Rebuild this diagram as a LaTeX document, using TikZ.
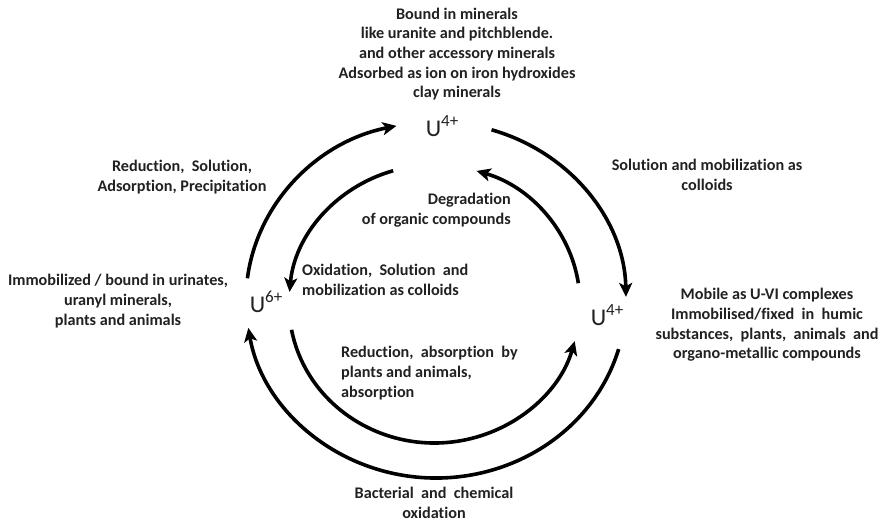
\documentclass[tikz,border=0pt]{standalone}
\usepackage{fontspec}
\setmainfont{Carlito}[Ligatures=NoCommon]
\usetikzlibrary{arrows.meta,calc}
\definecolor{ink}{rgb}{0.13,0.13,0.13}
% uranium ion with its charge set as a raised superscript
\newcommand{\uion}[1]{U\raisebox{0.40em}{\fontsize{17}{17}\selectfont #1}}

\begin{document}
\begin{tikzpicture}[x=1pt,y=-1pt,
  note/.style={font=\bfseries\fontsize{16.2}{19.7}\selectfont, text=ink, align=center, inner sep=0pt},
  ion/.style={font=\fontsize{24}{24}\selectfont, text=ink, inner sep=0pt},
  flow/.style={line width=3.6pt, draw=black,
    -{Stealth[length=14pt,width=13pt,inset=3.5pt]}}]
\useasboundingbox (0,0) rectangle (882,521);
\fill[white] (0,0) rectangle (882,521);

% centres of the outer and inner cycles
\coordinate (oc) at (436,300);
\coordinate (ic) at (434.5,304);

% oxidation states
\node[ion] (utop)   at (442,126) {\uion{4+}};
\node[ion] (usix)   at (266,302) {\uion{6+}};
\node[ion] (uright) at (607,315) {\uion{4+}};

% descriptions of each state
\node[note] (topnote) at (457,54) {Bound in minerals\\like uranite and pitchblende.\\and other accessory minerals\\Adsorbed as ion on iron hydroxides\\clay minerals};
\node[note] (leftnote) at (118,301) {Immobilized / bound in urinates,\\uranyl minerals,\\plants and animals};
\node[note] (rightnote) at (767,325) {Mobile as U-VI complexes\\Immobilised/fixed\ \ in\ \ humic\\substances,\ \ plants,\ \ animals\ \ and\\organo-metallic compounds};

% process labels
\node[note] (redsol) at (182,177) {Reduction,\ \ Solution,\\Adsorption, Precipitation};
\node[note] (solmob) at (707,175) {Solution and mobilization as\\colloids};
\node[note, align=right, anchor=east] (degrad) at (511,210) {Degradation\\of organic compounds};
\node[note, align=left, anchor=west] (oxsol) at (302,280) {Oxidation,\ \ Solution\ \ and\\mobilization as colloids};
\node[note, align=left, anchor=west] (redabs) at (341,373) {Reduction,\ \ absorption\ \ by\\plants and animals,\\absorption};
\node[note] (bact) at (434,503) {Bacterial\ \ and\ \ chemical\\oxidation};

% start points of the arcs
\coordinate (o1) at ($(oc)+(-173:190 and 178)$);
\coordinate (o2) at ($(oc)+(-73:190 and 178)$);
\coordinate (o3) at ($(oc)+(16:190 and 178)$);
\coordinate (i1) at ($(ic)+(-106.5:145.5 and 139)$);
\coordinate (i2) at ($(ic)+(-8.6:145.5 and 139)$);
\coordinate (i3) at ($(ic)+(169.3:145.5 and 139)$);

% outer cycle
\draw[flow] (o1) arc[start angle=-173, end angle=-102, x radius=190, y radius=178];
\draw[flow] (o2) arc[start angle=-73, end angle=-1, x radius=190, y radius=178];
\draw[flow] (o3) arc[start angle=16, end angle=171, x radius=190, y radius=178];

% inner cycle
\draw[flow] (i1) arc[start angle=-106.5, end angle=-175, x radius=145.5, y radius=139];
\draw[flow] (i2) arc[start angle=-8.6, end angle=-73.2, x radius=145.5, y radius=139];
\draw[flow] (i3) arc[start angle=169.3, end angle=15.5, x radius=145.5, y radius=139];
\end{tikzpicture}
\end{document}
